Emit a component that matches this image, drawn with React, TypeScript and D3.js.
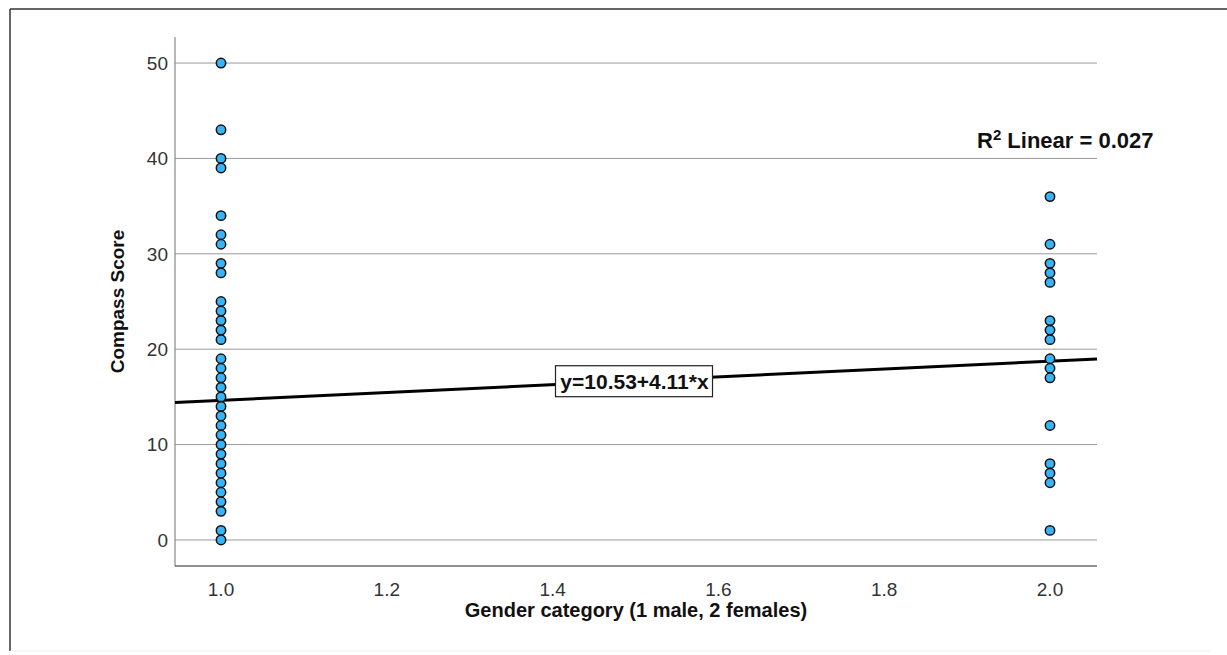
import React from "react";
import * as d3 from "d3";

const maleScores = [50, 43, 40, 39, 34, 32, 31, 29, 28, 25, 24, 23, 22, 21, 19, 18, 17, 16, 15, 14, 13, 12, 11, 10, 9, 8, 7, 6, 5, 4, 3, 1, 0];
const femaleScores = [36, 31, 29, 28, 27, 23, 22, 21, 19, 18, 17, 12, 8, 7, 6, 1];
const genderCodes = [1, 2];
const xTicks = [1.0, 1.2, 1.4, 1.6, 1.8, 2.0];
const yTicks = [0, 10, 20, 30, 40, 50];
const intercept = 10.53;
const slope = 4.11;
const rSquared = 0.027;

export default function App() {
  const W = 1227, H = 655;
  const left = 175, right = 1097, top = 37, bottom = 566;
  const x = d3.scaleLinear().domain([0.9445, 2.0567]).range([left, right]);
  const y = d3.scaleLinear().domain([-2.73, 52.73]).range([bottom, top]);
  const points = [
    ...maleScores.map((v) => ({ g: genderCodes[0], v })),
    ...femaleScores.map((v) => ({ g: genderCodes[1], v })),
  ];
  const [x0, x1] = x.domain();
  const line = d3.line<number>().x((d) => x(d)).y((d) => y(intercept + slope * d));
  const font = "Liberation Sans, Arial, sans-serif";
  const eqX = x(1.5);
  const eqY = y(intercept + slope * 1.5) + 1;
  return (
    <svg width={W} height={H} style={{ position: "absolute", left: 0, top: 0, background: "#fff" }}>
      <line x1={10} y1={9} x2={W} y2={9} stroke="#333" strokeWidth={1.5} />
      <line x1={10} y1={9} x2={10} y2={651} stroke="#333" strokeWidth={1.5} />
      <line x1={10} y1={651} x2={1210} y2={651} stroke="#eee" strokeWidth={1} />
      {yTicks.map((t) => (
        <g key={t}>
          <line x1={left} x2={right} y1={y(t)} y2={y(t)} stroke="#999" strokeWidth={1} />
          <text x={168} y={y(t)} dy="0.36em" textAnchor="end" fontFamily={font} fontSize={19} fill="#333">{t}</text>
        </g>
      ))}
      <line x1={left} x2={left} y1={top} y2={bottom} stroke="#888" strokeWidth={1.2} />
      <line x1={left} x2={right} y1={bottom} y2={bottom} stroke="#222" strokeWidth={1.2} />
      {xTicks.map((t) => (
        <text key={t} x={x(t)} y={596} textAnchor="middle" fontFamily={font} fontSize={19} fill="#333">{t.toFixed(1)}</text>
      ))}
      <path d={line([x0, x1]) || ""} stroke="#000" strokeWidth={3} fill="none" />
      {points.map((p, i) => (
        <circle key={i} cx={x(p.g)} cy={y(p.v)} r={4.7} fill="#38b4f6" stroke="#111" strokeWidth={1.5} />
      ))}
      <rect x={eqX - 80} y={eqY - 16} width={157} height={31} fill="#fff" stroke="#222" strokeWidth={1.2} />
      <text x={eqX - 1} y={eqY} dy="0.36em" textAnchor="middle" fontFamily={font} fontSize={21} fontWeight="bold" fill="#111">y=10.53+4.11*x</text>
      <text x={977} y={148} fontFamily={font} fontSize={22} fontWeight="bold" fill="#111">
        R<tspan dy={-8} fontSize={15}>2</tspan><tspan dy={8}> Linear = {rSquared.toFixed(3)}</tspan>
      </text>
      <text transform={`translate(124,${(top + bottom) / 2}) rotate(-90)`} textAnchor="middle" fontFamily={font} fontSize={19} fontWeight="bold" fill="#111">Compass Score</text>
      <text x={(left + right) / 2} y={617} textAnchor="middle" fontFamily={font} fontSize={20} fontWeight="bold" fill="#111">Gender category (1 male, 2 females)</text>
    </svg>
  );
}
